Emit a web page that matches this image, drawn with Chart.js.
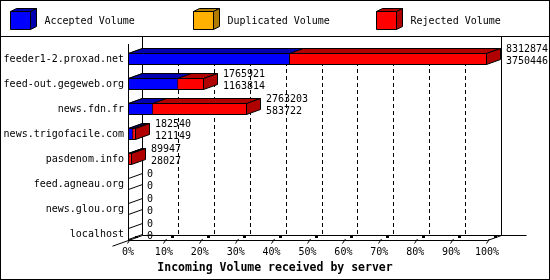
<!DOCTYPE html>
<html>
<head>
<meta charset="utf-8">
<script src="https://cdn.jsdelivr.net/npm/chart.js@4.4.1/dist/chart.umd.min.js"></script>
<style>
  html, body { margin: 0; padding: 0; background: #fff; }
</style>
</head>
<body>
<canvas id="chart" width="550" height="280"></canvas>
<script>
// Incoming volume per server (innreport style 3D bars)

const servers = [
    'feeder1-2.proxad.net',
    'feed-out.gegeweb.org',
    'news.fdn.fr',
    'news.trigofacile.com',
    'pasdenom.info',
    'feed.agneau.org',
    'news.glou.org',
    'localhost'
];
const acceptedVolume   = [3750446, 1163814, 583722, 121149, 28027, 0, 0, 0];
const duplicatedVolume = [0, 0, 0, 0, 0, 0, 0, 0];
const rejectedVolume   = [8312874, 1765921, 2763203, 182540, 89947, 0, 0, 0];
const xTickLabels = ['0%', '10%', '20%', '30%', '40%', '50%', '60%', '70%', '80%', '90%', '100%'];

const MONO = '"DejaVu Sans Mono", "Liberation Mono", monospace';
const DX = 14, DY = 5;      // depth offset of the 3D effect
const BAR = 12;

const colors = {
    accepted:   { front: '#0000ff', dark: '#0000b0' },
    duplicated: { front: '#ffb000', dark: '#b07c00' },
    rejected:   { front: '#ff0000', dark: '#b00000' }
};

function poly(ctx, pts, fill) {
    ctx.beginPath();
    pts.forEach((p, i) => i ? ctx.lineTo(p[0], p[1]) : ctx.moveTo(p[0], p[1]));
    ctx.closePath();
    if (fill) {
        ctx.fillStyle = fill;
        ctx.fill();
    }
    ctx.stroke();
}

function line(ctx, x1, y1, x2, y2) {
    ctx.beginPath();
    ctx.moveTo(x1, y1);
    ctx.lineTo(x2, y2);
    ctx.stroke();
}

const maxVolume = Math.max(...rejectedVolume);

const frame3d = {
    id: 'frame3d',

    // back plane, floor and grid, drawn under the bars
    beforeDatasetsDraw(chart) {
        const ctx = chart.ctx;
        const xs = chart.scales.x, ys = chart.scales.y;
        const x0 = Math.round(xs.getPixelForValue(0)) + 0.5;
        const x1 = Math.round(xs.getPixelForValue(maxVolume)) + 0.5;
        const floor = Math.round(ys.getPixelForValue(servers.length - 1) + BAR / 2) + 0.5;
        const top = 36.5;

        ctx.save();
        ctx.strokeStyle = '#000';
        ctx.lineWidth = 1;

        // dashed grid on the back plane
        ctx.setLineDash([4, 3]);
        xs.ticks.forEach((t, i) => {
            if (i === 0 || i === xs.ticks.length - 1) return;
            const gx = Math.round(xs.getPixelForValue(t.value)) + DX + 0.5;
            line(ctx, gx, 48, gx, floor - DY);
        });
        ctx.setLineDash([]);

        // back verticals
        line(ctx, x0 + DX, top, x0 + DX, floor - DY);
        line(ctx, x1 + DX, top, x1 + DX, floor - DY);
        // back floor line
        line(ctx, x0 + DX, floor - DY, x1 + DX + 25, floor - DY);
        // front floor line and front vertical
        line(ctx, x0, floor, x1, floor);
        line(ctx, x0, 44, x0, floor);
        // floor edges
        line(ctx, x0 - 16, floor + DY * 16 / DX, x0 + DX, floor - DY);
        line(ctx, x1, floor, x1 + DX, floor - DY);

        // tick marks on the floor
        xs.ticks.forEach(t => {
            const tx = Math.round(xs.getPixelForValue(t.value));
            line(ctx, tx - 0.5, floor + 3, tx + 2.5, floor - 1.5);
            ctx.fillStyle = '#000';
            ctx.fillRect(tx + 7, floor - 4.5, 3, 2);
        });
        ctx.restore();
    },

    // top and side faces after each dataset's front faces
    afterDatasetDraw(chart, args) {
        const ds = chart.data.datasets[args.index];
        if (ds.key === 'duplicated') return;
        const ctx = chart.ctx;
        const col = colors[ds.key];
        ctx.save();
        ctx.strokeStyle = '#000';
        ctx.lineWidth = 1;
        args.meta.data.forEach((el, i) => {
            const p = el.getProps(['x', 'y', 'base', 'height'], true);
            const L = Math.round(Math.min(p.x, p.base)) + 0.5;
            const R = Math.round(Math.max(p.x, p.base)) - 0.5;
            const T = Math.round(p.y - p.height / 2) + 0.5;
            const B = Math.round(p.y + p.height / 2) - 0.5;
            if (ds.data[i] === 0) {
                if (ds.key === 'rejected') {
                    line(ctx, L, T, L + DX, T - DY);
                    line(ctx, L, B, L + DX, B - DY);
                }
                return;
            }
            poly(ctx, [[L, T], [R, T], [R + DX, T - DY], [L + DX, T - DY]], col.dark);
            if (ds.key === 'rejected') {
                poly(ctx, [[R, T], [R + DX, T - DY], [R + DX, B - DY], [R, B]], col.dark);
            }
        });
        ctx.restore();
    },

    // value labels beside each bar
    afterDatasetsDraw(chart) {
        const ctx = chart.ctx;
        const xs = chart.scales.x, ys = chart.scales.y;
        ctx.save();
        ctx.fillStyle = '#000';
        ctx.font = '10px ' + MONO;
        ctx.textAlign = 'left';
        ctx.textBaseline = 'middle';
        servers.forEach((s, i) => {
            const end = Math.max(xs.getPixelForValue(rejectedVolume[i]), xs.getPixelForValue(acceptedVolume[i]));
            const c = ys.getPixelForValue(i);
            const lx = Math.round(end) + DX + 5;
            ctx.fillText(String(rejectedVolume[i]), lx, c - 9.5);
            ctx.fillText(String(acceptedVolume[i]), lx, c + 2);
        });
        ctx.restore();
    },

    // legend with 3D boxes, separator and outer border
    afterDraw(chart) {
        const ctx = chart.ctx;
        ctx.save();
        ctx.strokeStyle = '#000';
        ctx.lineWidth = 1;
        chart.data.datasets.forEach((ds, i) => {
            const col = colors[ds.key];
            const bx = 10.5 + i * 183, by = 11.5, w = 20, h = 18, d = 6, e = 3;
            poly(ctx, [[bx, by], [bx + w, by], [bx + w + d, by - e], [bx + d, by - e]], col.dark);
            poly(ctx, [[bx + w, by], [bx + w + d, by - e], [bx + w + d, by + h - e], [bx + w, by + h]], col.dark);
            poly(ctx, [[bx, by], [bx + w, by], [bx + w, by + h], [bx, by + h]], col.front);
            ctx.fillStyle = '#000';
            ctx.font = '10px ' + MONO;
            ctx.textAlign = 'left';
            ctx.textBaseline = 'middle';
            ctx.fillText(ds.label, bx + 34, 21);
        });
        line(ctx, 0, 36.5, 550, 36.5);
        ctx.strokeRect(0.5, 0.5, 549, 279);
        ctx.restore();
    }
};

new Chart(document.getElementById('chart'), {
    type: 'bar',
    data: {
        labels: servers,
        datasets: [
            {
                key: 'accepted',
                label: 'Accepted Volume',
                data: acceptedVolume,
                backgroundColor: colors.accepted.front
            },
            {
                key: 'duplicated',
                label: 'Duplicated Volume',
                data: duplicatedVolume,
                backgroundColor: colors.duplicated.front,
                borderWidth: 0
            },
            {
                key: 'rejected',
                label: 'Rejected Volume',
                data: rejectedVolume,
                backgroundColor: colors.rejected.front
            }
        ]
    },
    options: {
        indexAxis: 'y',
        responsive: false,
        animation: false,
        datasets: {
            bar: {
                grouped: false,
                barThickness: BAR,
                borderColor: '#000',
                borderWidth: 1,
                borderSkipped: false,
                inflateAmount: 0,
                yAxisID: 'y'
            }
        },
        layout: {
            padding: { top: 46.5, bottom: 5, left: 0, right: 0 }
        },
        plugins: {
            legend: { display: false },
            tooltip: { enabled: false },
            title: {
                display: true,
                position: 'bottom',
                text: 'Incoming Volume received by server',
                color: '#000',
                font: { family: MONO, size: 11.5, weight: 'bold', lineHeight: 1.2 },
                padding: { top: 0, bottom: 0 }
            }
        },
        scales: {
            y: {
                type: 'category',
                grid: { display: false, drawTicks: false },
                border: { display: false },
                ticks: {
                    color: '#000',
                    padding: 4,
                    font: { family: MONO, size: 10 }
                },
                afterFit: function (scale) {
                    scale.width = 128;
                }
            },
            yRight: {
                type: 'linear',
                position: 'right',
                grid: { display: false, drawTicks: false },
                border: { display: false },
                ticks: { display: false },
                afterFit: function (scale) {
                    scale.width = 63;
                }
            },
            x: {
                type: 'linear',
                min: 0,
                max: maxVolume,
                grid: { display: false, drawTicks: false },
                border: { display: false },
                afterBuildTicks: function (scale) {
                    scale.ticks = xTickLabels.map((t, i) => ({ value: maxVolume * i / (xTickLabels.length - 1) }));
                },
                ticks: {
                    color: '#000',
                    padding: 0,
                    maxRotation: 0,
                    autoSkip: false,
                    font: { family: MONO, size: 10 },
                    callback: function (value, index) {
                        return xTickLabels[index];
                    }
                },
                afterFit: function (scale) {
                    scale.height = 14.7;
                }
            }
        }
    },
    plugins: [frame3d]
});
</script>
</body>
</html>
